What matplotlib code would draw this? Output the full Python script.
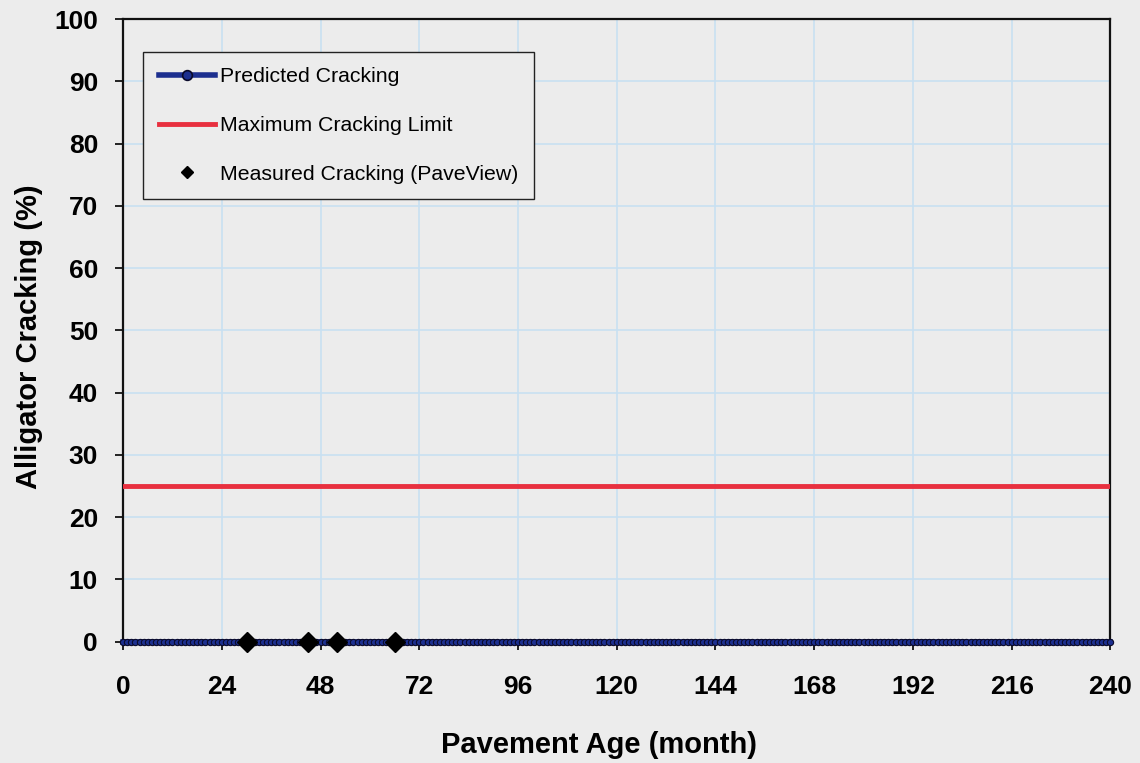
import matplotlib
matplotlib.use("Agg")
import matplotlib.pyplot as plt
from matplotlib.lines import Line2D

# predicted cracking, monthly 0..240 (essentially zero everywhere)
pred_months = list(range(0, 241))
pred_values = [0.0] * len(pred_months)

# maximum cracking limit
limit_months = [0, 240]
limit_values = [25.0, 25.0]

# measured cracking (PaveView)
meas_months = [30, 45, 52, 66]
meas_values = [0.0, 0.0, 0.0, 0.0]

x_ticks = [0, 24, 48, 72, 96, 120, 144, 168, 192, 216, 240]
y_ticks = [0, 10, 20, 30, 40, 50, 60, 70, 80, 90, 100]

bg = "#ececec"
plt.rcParams['font.family'] = ['Liberation Sans', 'DejaVu Sans']

fig = plt.figure(figsize=(11.4, 7.63), dpi=100, facecolor=bg)
ax = fig.add_axes([0.108, 0.159, 0.866, 0.816], facecolor=bg)

ax.plot(limit_months, limit_values, color="#e8303f", lw=3.5, zorder=3)
ax.plot(pred_months, pred_values, color="#1c2f8f", lw=4, marker="o", ms=4.5,
        mfc="#1c2f8f", mec="#0a0a2a", mew=0.8, clip_on=False, zorder=4)
ax.plot(meas_months, meas_values, ls="none", marker="D", ms=10, color="black",
        clip_on=False, zorder=5)

ax.set_xlim(0, 240)
ax.set_ylim(0, 100)
ax.set_xticks(x_ticks)
ax.set_yticks(y_ticks)
ax.grid(True, color="#c8e0f2", lw=1.2)
ax.set_axisbelow(True)
ax.tick_params(direction="out", length=6, width=1.2, labelsize=19)
ax.tick_params(axis="y", pad=12)
ax.tick_params(axis="x", pad=18)
for lbl in ax.get_xticklabels() + ax.get_yticklabels():
    lbl.set_fontweight("bold")
for s in ax.spines.values():
    s.set_linewidth(1.6)
    s.set_color("#111111")

ax.set_xlabel("Pavement Age (month)", fontsize=21, fontweight="bold")
ax.xaxis.set_label_coords(0.482, -0.143)
ax.set_ylabel("Alligator Cracking (%)", fontsize=21, fontweight="bold")
ax.yaxis.set_label_coords(-0.081, 0.49)

handles = [
    Line2D([], [], color="#1c2f8f", lw=4, marker="o", ms=7, mfc="#1c2f8f", mec="#0a0a2a", mew=1.2),
    Line2D([], [], color="#e8303f", lw=3.5),
    Line2D([], [], ls="none", marker="D", ms=6, color="black"),
]
labels = ["Predicted Cracking", "Maximum Cracking Limit", "Measured Cracking (PaveView)"]
leg = ax.legend(handles, labels, loc="upper left",
                bbox_to_anchor=(0.0205, 0.947), fontsize=15.3, frameon=True, fancybox=False,
                facecolor=bg, edgecolor="#222222", framealpha=1, labelspacing=1.4,
                handlelength=2.65, handletextpad=0.25, borderpad=0.72, borderaxespad=0)
leg.get_frame().set_linewidth(1.0)

fig.savefig("out.png", dpi=100, facecolor=bg)
